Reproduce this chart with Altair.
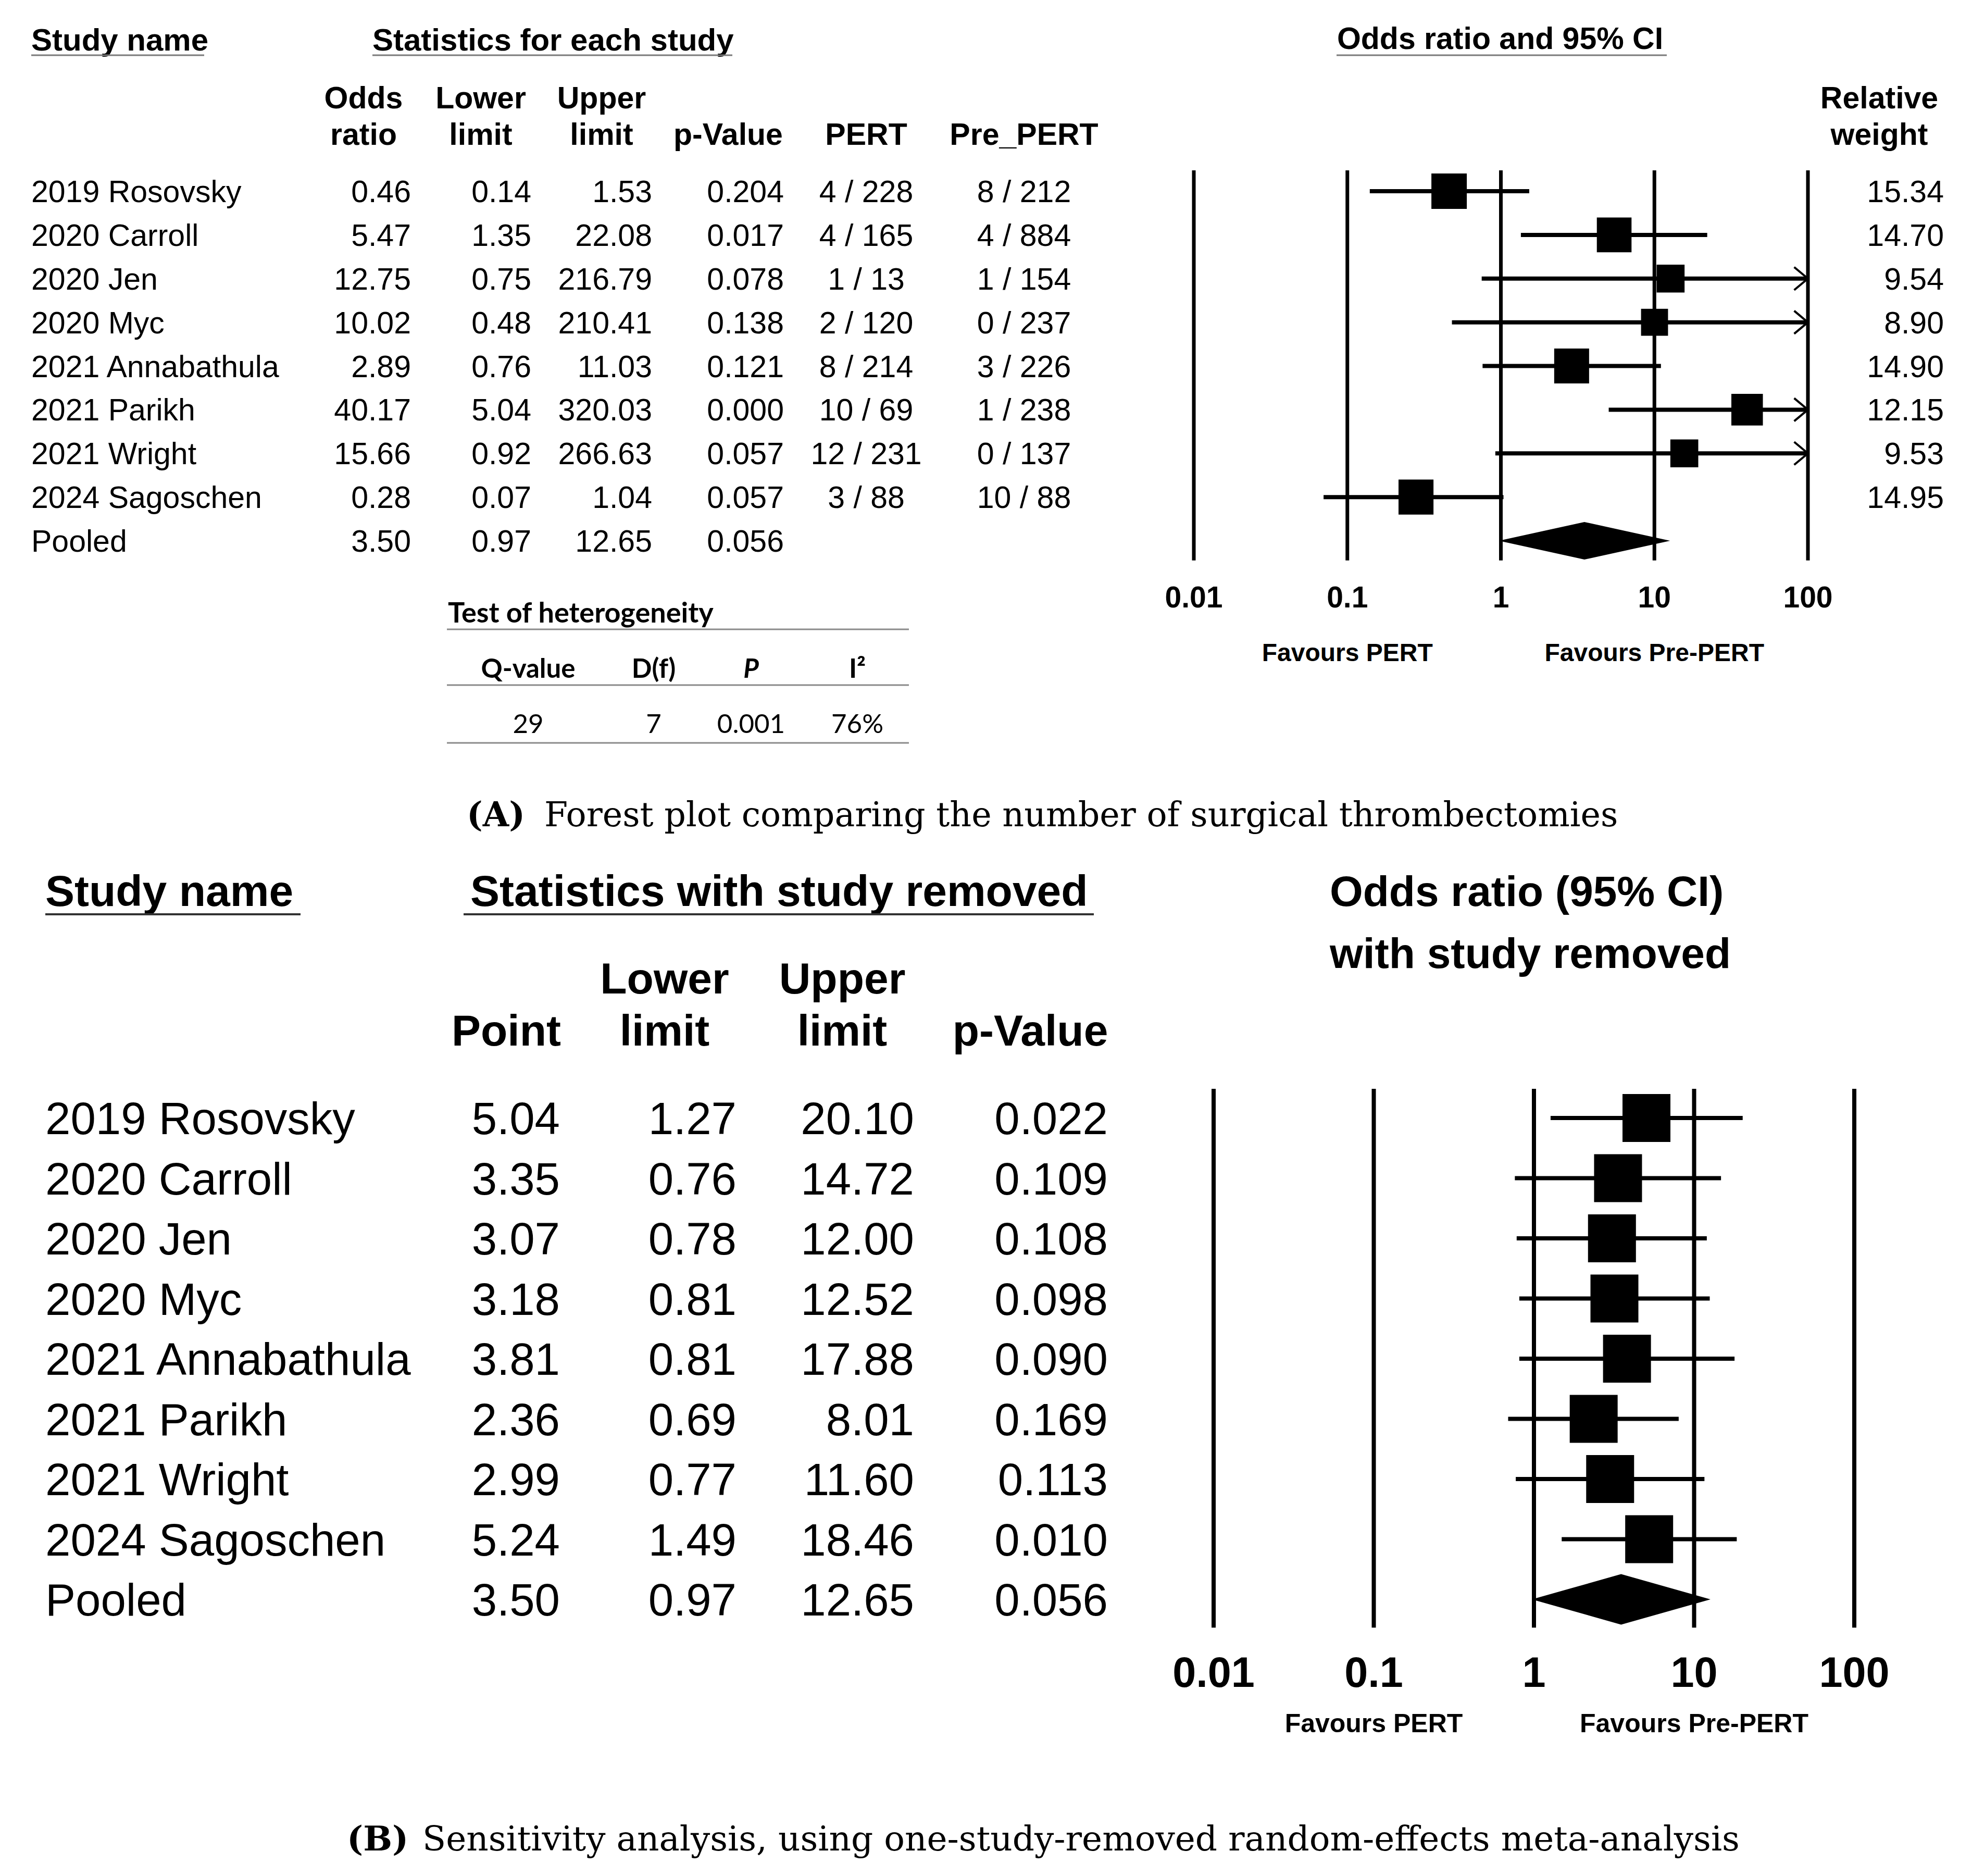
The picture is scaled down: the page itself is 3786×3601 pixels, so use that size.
import altair as alt
import pandas as pd

# ---------------- data ----------------
studies = ["2019 Rosovsky", "2020 Carroll", "2020 Jen", "2020 Myc",
           "2021 Annabathula", "2021 Parikh", "2021 Wright", "2024 Sagoschen"]
pooled_name = "Pooled"

# Panel A: statistics for each study
a_or = [0.46, 5.47, 12.75, 10.02, 2.89, 40.17, 15.66, 0.28]
a_lo = [0.14, 1.35, 0.75, 0.48, 0.76, 5.04, 0.92, 0.07]
a_hi = [1.53, 22.08, 216.79, 210.41, 11.03, 320.03, 266.63, 1.04]
a_p = ["0.204", "0.017", "0.078", "0.138", "0.121", "0.000", "0.057", "0.057"]
a_pert = ["4 / 228", "4 / 165", "1 / 13", "2 / 120", "8 / 214", "10 / 69", "12 / 231", "3 / 88"]
a_prepert = ["8 / 212", "4 / 884", "1 / 154", "0 / 237", "3 / 226", "1 / 238", "0 / 137", "10 / 88"]
a_weight = [15.34, 14.70, 9.54, 8.90, 14.90, 12.15, 9.53, 14.95]

pooled_or, pooled_lo, pooled_hi, pooled_p = 3.50, 0.97, 12.65, "0.056"

# Panel B: one-study-removed
b_pt = [5.04, 3.35, 3.07, 3.18, 3.81, 2.36, 2.99, 5.24]
b_lo = [1.27, 0.76, 0.78, 0.81, 0.81, 0.69, 0.77, 1.49]
b_hi = [20.10, 14.72, 12.00, 12.52, 17.88, 8.01, 11.60, 18.46]
b_p = ["0.022", "0.109", "0.108", "0.098", "0.090", "0.169", "0.113", "0.010"]

tick_values = [0.01, 0.1, 1, 10, 100]
tick_labels = ["0.01", "0.1", "1", "10", "100"]
favour_at = [0.1, 10]
favour_labels = ["Favours PERT", "Favours Pre-PERT"]

het_title = "Test of heterogeneity"
het_headers = ["Q-value", "D(f)", "P", "I\u00b2"]
het_values = ["29", "7", "0.001", "76%"]

caption_a = ("(A)", "Forest plot comparing the number of surgical thrombectomies")
caption_b = ("(B)", "Sensitivity analysis, using one-study-removed random-effects meta-analysis")

# ---------------- layout (reference pixel coordinates) ----------------
W, H = 3770, 3580
OFF = 8
SANS = "Liberation Sans"
SERIF = "DejaVu Serif"
CAL = "Lato"

layers = []


def px_scale():
    return alt.Scale(domain=[OFF, OFF + W], range=[0, W], nice=False, zero=False)


def py_scale():
    return alt.Scale(domain=[OFF, OFF + H], range=[0, H], nice=False, zero=False)


def row_scale(y0, y8):
    return alt.Scale(domain=[0, 8], range=[y0 - OFF, y8 - OFF], nice=False, zero=False)


def log_scale(x0, x1):
    return alt.Scale(type="log", domain=[0.01, 100], range=[x0 - OFF, x1 - OFF], nice=False)


def text(df, x, y, align="left", size=59, weight="normal", font=SANS, style="normal", color="black"):
    layers.append(
        alt.Chart(df).mark_text(
            align=align, baseline="alphabetic", dy=round(0.36 * size), fontSize=size,
            fontWeight=weight, font=font, fontStyle=style, color=color
        ).encode(x=x, y=y, text="label:N")
    )


def pix_text(items, **kw):
    df = pd.DataFrame(items, columns=["label", "x", "y"])
    text(df, alt.X("x:Q", scale=px_scale(), axis=None),
         alt.Y("y:Q", scale=py_scale(), axis=None), **kw)


def row_text(df, rs, **kw):
    text(df, alt.X("x:Q", scale=px_scale(), axis=None),
         alt.Y("row:Q", scale=rs, axis=None), **kw)


def pix_rules(items, color, width):
    df = pd.DataFrame(items, columns=["x", "x2", "y"])
    layers.append(
        alt.Chart(df).mark_rule(color=color, strokeWidth=width).encode(
            x=alt.X("x:Q", scale=px_scale(), axis=None), x2="x2:Q",
            y=alt.Y("y:Q", scale=py_scale(), axis=None))
    )


CHEVRON = "M -1.2 -1 L 0 0 L -1.2 1"


def forest(pt, lo, hi, sizes, pooled, xr, yr, top, bot, line_w, ci_w, half, box_size_enc,
           tick_y, tick_fs, fav_y, fav_fs, chev_size):
    lg = log_scale(*xr)
    rs = row_scale(*yr)
    vdf = pd.DataFrame({"t": tick_values})
    layers.append(
        alt.Chart(vdf).transform_calculate(top=str(top), bot=str(bot)).mark_rule(
            color="black", strokeWidth=line_w).encode(
            x=alt.X("t:Q", scale=lg, axis=None),
            y=alt.Y("top:Q", scale=rs, axis=None), y2="bot:Q")
    )
    cdf = pd.DataFrame({"row": list(range(len(pt))), "pt": pt, "lo": lo, "hi": hi})
    if sizes is not None:
        cdf["w"] = sizes
    base = alt.Chart(cdf).transform_calculate(cap="min(datum.hi, 100)")
    layers.append(
        base.mark_rule(color="black", strokeWidth=ci_w).encode(
            x=alt.X("lo:Q", scale=lg, axis=None), x2="cap:Q",
            y=alt.Y("row:Q", scale=rs, axis=None))
    )
    layers.append(
        base.transform_filter("datum.hi > 100").mark_point(
            shape=CHEVRON, filled=False, stroke="black", strokeWidth=4,
            size=chev_size, opacity=1).encode(
            x=alt.X("cap:Q", scale=lg, axis=None),
            y=alt.Y("row:Q", scale=rs, axis=None))
    )
    layers.append(
        base.mark_point(shape="square", filled=True, color="black", opacity=1).encode(
            x=alt.X("pt:Q", scale=lg, axis=None),
            y=alt.Y("row:Q", scale=rs, axis=None),
            size=box_size_enc)
    )
    p_pt, p_lo, p_hi = pooled
    ddf = pd.DataFrame({"x": [p_lo, p_pt, p_hi], "h": [0, 1, 0]})
    layers.append(
        alt.Chart(ddf).transform_calculate(
            ya=f"8 - {half} * datum.h", yb=f"8 + {half} * datum.h").mark_area(
            color="black", opacity=1).encode(
            x=alt.X("x:Q", scale=lg, axis=None),
            y=alt.Y("ya:Q", scale=rs, axis=None), y2="yb:Q")
    )
    tdf = pd.DataFrame({"t": tick_values, "label": tick_labels, "y": [tick_y] * 5})
    text(tdf, alt.X("t:Q", scale=lg, axis=None), alt.Y("y:Q", scale=py_scale(), axis=None),
         align="center", size=tick_fs, weight="bold")
    fdf = pd.DataFrame({"t": favour_at, "label": favour_labels, "y": [fav_y] * 2})
    text(fdf, alt.X("t:Q", scale=lg, axis=None), alt.Y("y:Q", scale=py_scale(), axis=None),
         align="center", size=fav_fs, weight="bold")


def fmt(v):
    return v if isinstance(v, str) else f"{v:.2f}"


# ================= Panel A =================
A_Y0, A_Y8 = 367, 1038
rsA = row_scale(A_Y0, A_Y8)
GRAY = "#7a7a7a"

pix_text([("Study name", 60, 75), ("Statistics for each study", 715, 75)],
         size=60, weight="bold")
pix_text([("Odds ratio and 95% CI", 2880, 73)], align="center", size=59, weight="bold")
pix_rules([(60, 392, 106), (715, 1406, 106), (2566, 3200, 106)], GRAY, 3)

A_HC = {"or": 698, "lo": 923, "hi": 1155, "p": 1398, "pert": 1663, "pre": 1966, "w": 3608}
pix_text([("Odds", A_HC["or"], 187), ("ratio", A_HC["or"], 257),
          ("Lower", A_HC["lo"], 187), ("limit", A_HC["lo"], 257),
          ("Upper", A_HC["hi"], 187), ("limit", A_HC["hi"], 257),
          ("p-Value", A_HC["p"], 257), ("PERT", A_HC["pert"], 257),
          ("Pre_PERT", A_HC["pre"], 257),
          ("Relative", A_HC["w"], 187), ("weight", A_HC["w"], 257)],
         align="center", size=59, weight="bold")

names_a = pd.DataFrame({"row": list(range(9)), "label": studies + [pooled_name]})
names_a["x"] = 60
row_text(names_a, rsA, align="left", size=59)

A_RIGHT = {"or": 789, "lo": 1020, "hi": 1252, "p": 1505, "w": 3732}
recs = []
for key, vals in [("or", a_or + [pooled_or]), ("lo", a_lo + [pooled_lo]),
                  ("hi", a_hi + [pooled_hi]), ("p", a_p + [pooled_p]), ("w", a_weight)]:
    for i, v in enumerate(vals):
        recs.append({"row": i, "label": fmt(v), "x": A_RIGHT[key]})
row_text(pd.DataFrame(recs), rsA, align="right", size=59)

recs = []
for key, vals in [("pert", a_pert), ("pre", a_prepert)]:
    for i, v in enumerate(vals):
        recs.append({"row": i, "label": v, "x": A_HC[key]})
row_text(pd.DataFrame(recs), rsA, align="center", size=59)

forest(a_or, a_lo, a_hi, a_weight, (pooled_or, pooled_lo, pooled_hi),
       (2292, 3471), (A_Y0, A_Y8), -0.477, 8.45, 7, 8, 0.43,
       alt.Size("w:Q", scale=alt.Scale(domain=[0, 15.34], range=[0, 4624]), legend=None),
       1145, 57, 1252, 48, 1936)

# heterogeneity table
HET_X = [1014, 1255, 1442, 1646]
pix_text([(het_title, 860, 1176)], align="left", size=54, weight="bold", font=CAL)
pix_rules([(858, 1745, 1208), (858, 1745, 1315), (858, 1745, 1426)], "#8a8a8a", 3)
pix_text([(het_headers[0], HET_X[0], 1283), (het_headers[1], HET_X[1], 1283),
          (het_headers[3], HET_X[3], 1283)],
         align="center", size=51, weight="bold", font=CAL)
pix_text([(het_headers[2], HET_X[2], 1283)], align="center", size=51, weight="bold",
         font=CAL, style="italic")
pix_text([(het_values[i], HET_X[i], 1389) for i in range(4)],
         align="center", size=51, font=CAL)

# caption A
pix_text([(caption_a[0], 896, 1563)], align="left", size=65, weight="bold", font=SERIF)
pix_text([(caption_a[1], 1045, 1563)], align="left", size=65, font=SERIF)

# ================= Panel B =================
B_Y0, B_Y8 = 2146, 3070
rsB = row_scale(B_Y0, B_Y8)

pix_text([("Study name", 87, 1709), ("Statistics with study removed", 903, 1709)],
         size=84, weight="bold")
pix_rules([(87, 577, 1755), (890, 2100, 1755)], "#333333", 4)
pix_text([("Odds ratio (95% CI)", 2553, 1709), ("with study removed", 2553, 1828)],
         size=82, weight="bold")

B_HC = {"pt": 972, "lo": 1276, "hi": 1617, "p": 1978}
pix_text([("Point", B_HC["pt"], 1977), ("Lower", B_HC["lo"], 1877), ("limit", B_HC["lo"], 1977),
          ("Upper", B_HC["hi"], 1877), ("limit", B_HC["hi"], 1977),
          ("p-Value", B_HC["p"], 1977)],
         align="center", size=84, weight="bold")

names_b = pd.DataFrame({"row": list(range(9)), "label": studies + [pooled_name]})
names_b["x"] = 87
row_text(names_b, rsB, align="left", size=87)

B_RIGHT = {"pt": 1075, "lo": 1414, "hi": 1755, "p": 2127}
recs = []
for key, vals in [("pt", b_pt + [pooled_or]), ("lo", b_lo + [pooled_lo]),
                  ("hi", b_hi + [pooled_hi]), ("p", b_p + [pooled_p])]:
    for i, v in enumerate(vals):
        recs.append({"row": i, "label": fmt(v), "x": B_RIGHT[key]})
row_text(pd.DataFrame(recs), rsB, align="right", size=87)

forest(b_pt, b_lo, b_hi, None, (pooled_or, pooled_lo, pooled_hi),
       (2330, 3560), (B_Y0, B_Y8), -0.485, 8.47, 8, 8, 0.42,
       alt.value(8464), 3209, 81, 3307, 50, 1936)

# caption B
pix_text([(caption_b[0], 666, 3528)], align="left", size=66, weight="bold", font=SERIF)
pix_text([(caption_b[1], 811, 3528)], align="left", size=66, font=SERIF)

chart = alt.layer(*layers).resolve_scale(
    x="independent", y="independent", size="independent"
).properties(
    width=W, height=H, padding=0,
    autosize=alt.AutoSizeParams(type="none"), background="white"
).configure_view(stroke=None)

chart.save("out.html", embed_options={"renderer": "svg", "actions": False})
